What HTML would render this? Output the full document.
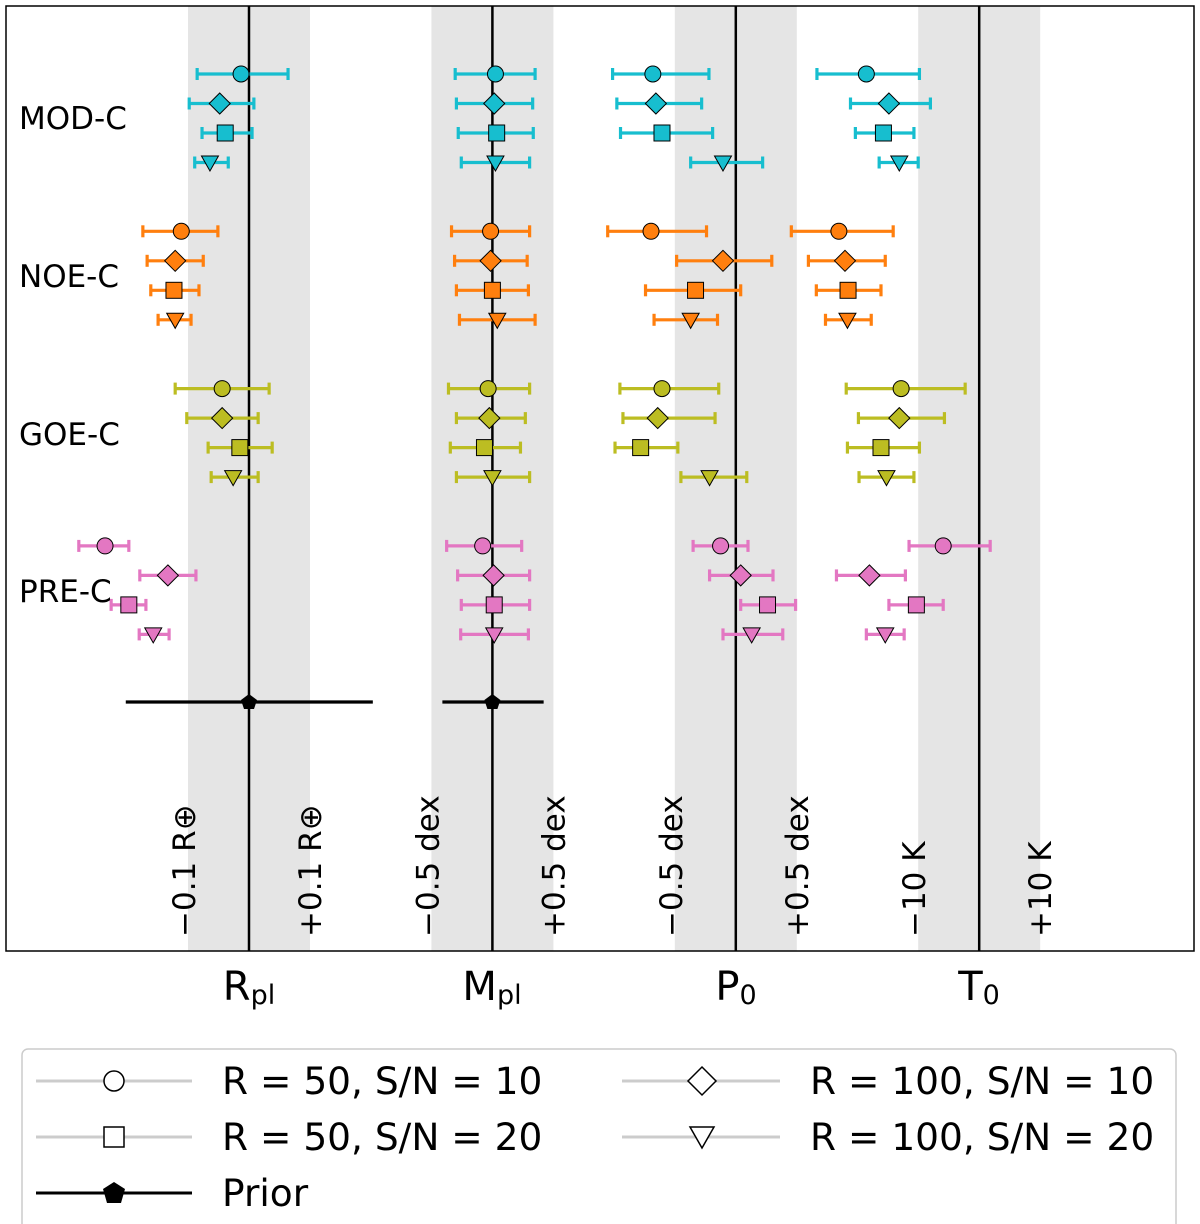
<!DOCTYPE html>
<html><head><meta charset="utf-8"><style>
body{margin:0;background:#fff}
svg{display:block;font-family:"DejaVu Sans","Liberation Sans",sans-serif}
</style></head><body>
<svg id="chart" width="1200" height="1224">
<g id="bands"></g>
<rect x="6" y="6" width="1188" height="945" fill="none" stroke="#000" stroke-width="1.5"/>
<g id="marks"></g>
<g font-size="31">
<text x="19" y="129">MOD-C</text>
<text x="19" y="287">NOE-C</text>
<text x="19" y="445">GOE-C</text>
<text x="19" y="602">PRE-C</text>
</g>
<g font-size="31" id="bandlabels"></g>
<g font-size="40" text-anchor="middle">
<text x="249" y="1000">R<tspan font-size="27" dy="4">pl</tspan></text>
<text x="492" y="1000">M<tspan font-size="27" dy="4">pl</tspan></text>
<text x="736" y="1000">P<tspan font-size="27" dy="4">0</tspan></text>
<text x="979" y="1000">T<tspan font-size="27" dy="4">0</tspan></text>
</g>
<g>
<rect x="22" y="1049" width="1154" height="190" rx="6" fill="#fff" stroke="#ccc" stroke-width="1.5"/>
<g stroke="#ccc" stroke-width="3"><line x1="36" y1="1081" x2="192" y2="1081"/><line x1="36" y1="1137" x2="192" y2="1137"/><line x1="622" y1="1081" x2="780" y2="1081"/><line x1="622" y1="1137" x2="780" y2="1137"/></g>
<line x1="36" y1="1193" x2="192" y2="1193" stroke="#000" stroke-width="3"/>
<circle cx="114" cy="1081" r="10" fill="#fff" stroke="#000" stroke-width="1.5"/>
<rect x="104" y="1127" width="20" height="20" fill="#fff" stroke="#000" stroke-width="1.5"/>
<polygon points="114,1182 125,1189 121,1203 107,1203 103,1189" fill="#000"/>
<polygon points="702,1067 716,1081 702,1095 688,1081" fill="#fff" stroke="#000" stroke-width="1.5"/>
<polygon points="690,1127 714,1127 702,1148" fill="#fff" stroke="#000" stroke-width="1.5"/>
<g font-size="37.5">
<text x="222" y="1094">R = 50, S/N = 10</text>
<text x="222" y="1150">R = 50, S/N = 20</text>
<text x="222" y="1206">Prior</text>
<text x="810" y="1094">R = 100, S/N = 10</text>
<text x="810" y="1150">R = 100, S/N = 20</text>
</g>
</g>
</svg>
<script>
// values in units of the shaded band half-width (0.1 R⊕, 0.5 dex, 0.5 dex, 10 K)
const params = ["Rpl","Mpl","P0","T0"];
const groups = ["MOD-C","NOE-C","GOE-C","PRE-C"];
const colors = ["#17becf","#ff7f0e","#bcbd22","#e377c2"];
const markers = ["circle","diamond","square","triangle"];
// [param][marker] = [value, low, high]
const MOD = [
 [[-0.13,-0.85,0.64],[-0.48,-0.98,0.08],[-0.39,-0.77,0.05],[-0.64,-0.89,-0.34]],
 [[0.05,-0.61,0.70],[0.03,-0.59,0.66],[0.07,-0.56,0.67],[0.05,-0.51,0.61]],
 [[-1.36,-2.02,-0.44],[-1.31,-1.95,-0.56],[-1.21,-1.89,-0.38],[-0.21,-0.74,0.44]],
 [[-1.85,-2.66,-0.98],[-1.48,-2.11,-0.80],[-1.57,-2.03,-1.07],[-1.31,-1.64,-1.00]]];
const NOE = [
 [[-1.11,-1.74,-0.51],[-1.21,-1.67,-0.75],[-1.23,-1.61,-0.82],[-1.21,-1.49,-0.95]],
 [[-0.03,-0.67,0.61],[-0.03,-0.62,0.57],[0,-0.59,0.59],[0.08,-0.54,0.70]],
 [[-1.39,-2.10,-0.48],[-0.21,-0.97,0.59],[-0.66,-1.48,0.08],[-0.74,-1.34,-0.30]],
 [[-2.30,-3.08,-1.41],[-2.20,-2.80,-1.54],[-2.15,-2.67,-1.61],[-2.16,-2.52,-1.77]]];
const GOE = [
 [[-0.44,-1.21,0.33],[-0.44,-1.02,0.15],[-0.15,-0.67,0.38],[-0.26,-0.62,0.15]],
 [[-0.07,-0.72,0.61],[-0.05,-0.59,0.54],[-0.13,-0.69,0.46],[0,-0.59,0.61]],
 [[-1.21,-1.90,-0.28],[-1.28,-1.85,-0.34],[-1.56,-1.98,-0.95],[-0.43,-0.90,0.18]],
 [[-1.28,-2.18,-0.23],[-1.31,-1.98,-0.57],[-1.61,-2.16,-0.98],[-1.52,-1.97,-1.07]]];
const PRE = [
 [[-2.36,-2.79,-1.97],[-1.33,-1.79,-0.87],[-1.97,-2.26,-1.69],[-1.57,-1.80,-1.31]],
 [[-0.16,-0.75,0.48],[0.02,-0.57,0.61],[0.03,-0.51,0.61],[0.03,-0.52,0.59]],
 [[-0.25,-0.70,0.20],[0.08,-0.43,0.61],[0.52,0.08,0.98],[0.26,-0.21,0.77]],
 [[-0.59,-1.15,0.18],[-1.80,-2.34,-1.21],[-1.03,-1.48,-0.59],[-1.54,-1.85,-1.23]]];
const priorR = [0,-2.02,2.03];
const priorM = [0,-0.82,0.84];
const bandLabels = [["−0.1 R⊕","+0.1 R⊕"],["−0.5 dex","+0.5 dex"],["−0.5 dex","+0.5 dex"],["−10 K","+10 K"]];

const NS="http://www.w3.org/2000/svg";
const colX = p => 249 + p*243.4;
const xs = (p,v) => colX(p) + v*61;
const ys = (g,m) => 74 + g*157.3 + m*29.5;
function mk(tag,attrs,parent){const e=document.createElementNS(NS,tag);for(const k in attrs)e.setAttribute(k,attrs[k]);parent.appendChild(e);return e;}
const bands=document.getElementById('bands'), marks=document.getElementById('marks'), bl=document.getElementById('bandlabels');
params.forEach((p,i)=>{
  const r=mk('rect',{x:xs(i,-1),y:6,width:122,height:945,fill:'#e5e5e5'},bands);
  
  
  const l=mk('line',{x1:colX(i),x2:colX(i),y1:6,y2:951,stroke:'#000','stroke-width':2.5},bands);
  
  
  bandLabels[i].forEach((t,j)=>{
    const x=xs(i,j?1:-1)+(j?11:7), y=937;
    const tx=mk('text',{x:x,y:y,transform:`rotate(-90 ${x} ${y})`},bl);
    tx.textContent=t;
    
    
  });
});
function marker(type,x,y,fill,parent){
  let e;
  if(type==='circle') e=mk('circle',{cx:x,cy:y,r:8},parent);
  else if(type==='diamond') e=mk('polygon',{points:`${x},${y-10.5} ${x+10.5},${y} ${x},${y+10.5} ${x-10.5},${y}`},parent);
  else if(type==='square') e=mk('rect',{x:x-8,y:y-8,width:16,height:16},parent);
  else e=mk('polygon',{points:`${x-8.5},${y-6.5} ${x+8.5},${y-6.5} ${x},${y+8.5}`},parent);
  e.setAttribute('fill',fill);e.setAttribute('stroke','#000');e.setAttribute('stroke-width','1');
  return e;
}
function errbar(p,d,y,col,cap,parent){
  mk('line',{x1:xs(p,d[1]),x2:xs(p,d[2]),y1:y,y2:y,stroke:col,'stroke-width':3.2},parent);
  if(cap){[1,2].forEach(k=>mk('line',{x1:xs(p,d[k]),x2:xs(p,d[k]),y1:y-6,y2:y+6,stroke:col,'stroke-width':3.2},parent));}
}
[MOD,NOE,GOE,PRE].forEach((G,g)=>{
  G.forEach((P,p)=>{
    P.forEach((d,m)=>{
      const grp=mk('g',{},marks);
      
      
      const y=ys(g,m);
      errbar(p,d,y,colors[g],true,grp);
      marker(markers[m],xs(p,d[0]),y,colors[g],grp);
    });
  });
});
[[0,priorR],[1,priorM]].forEach(([p,d])=>{
  const grp=mk('g',{},marks);
  
  
  const y=702;
  errbar(p,d,y,'#000',false,grp);
  const x=xs(p,d[0]);
  mk('polygon',{points:`${x},${y-8} ${x+8},${y-2} ${x+5},${y+7} ${x-5},${y+7} ${x-8},${y-2}`,fill:'#000'},grp);
});
</script>
</body></html>
